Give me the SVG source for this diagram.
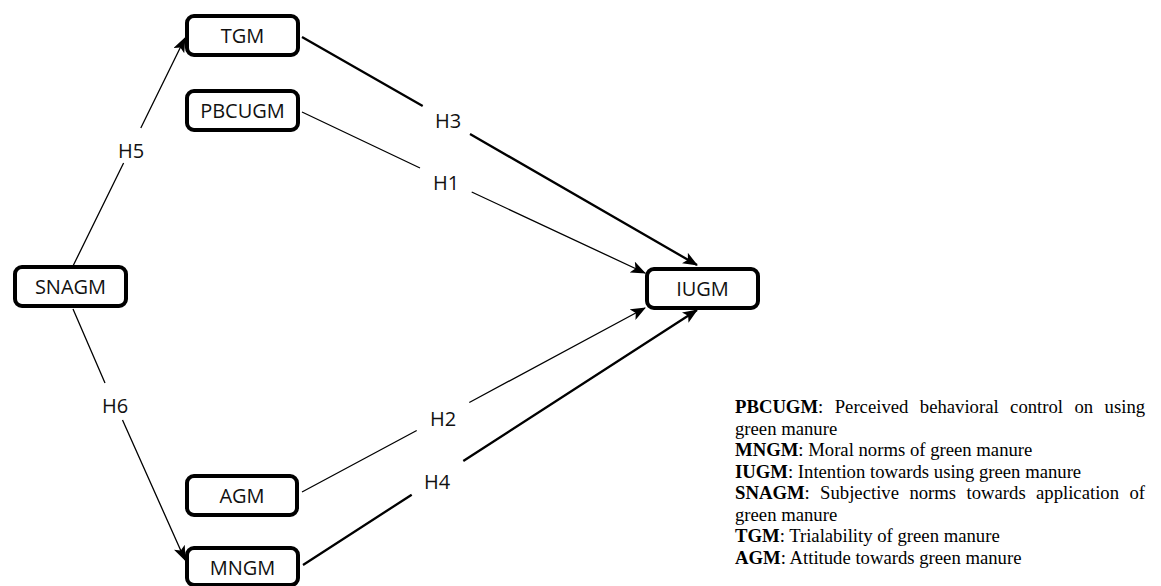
<svg xmlns="http://www.w3.org/2000/svg" width="1161" height="586" viewBox="0 0 1161 586">
<style>
.node rect{fill:#fff;stroke:#000;stroke-width:4}
.nt{font-family:"Open Sans","Liberation Sans",sans-serif;font-size:20px;fill:#111;text-anchor:middle;dominant-baseline:central}
.lbl{font-family:"Open Sans","Liberation Sans",sans-serif;font-size:20px;fill:#111;text-anchor:middle;dominant-baseline:central}
.thin{fill:none;stroke:#000;stroke-width:1.3;marker-end:url(#ah)}
.thick{fill:none;stroke:#000;stroke-width:2.3;marker-end:url(#ah)}
.leg{font-family:"Liberation Serif","Times New Roman",serif;font-size:18.7px;fill:#000}
.leg .b{font-weight:bold}
</style>
<defs>
<marker id="ah" markerUnits="userSpaceOnUse" viewBox="0 0 15 12" refX="14" refY="6" markerWidth="15" markerHeight="12" orient="auto">
<path d="M0,0 L15,6 L0,12 L3.5,6 z" fill="#000"/>
</marker>
</defs>
<rect width="1161" height="586" fill="#fff"/>
<g id="connectors">
<path class="thin" d="M73,266 L123.6,163 M140.8,128 L185,38"/>
<path class="thin" d="M73,309 L105,383 M122.5,420 L185,560"/>
<path class="thick" d="M302,37 L422.7,106 M470,134 L697,265"/>
<path class="thin" d="M302,112 L420,168 M471.7,192 L645,273"/>
<path class="thin" d="M302,492 L416.7,430.5 M469.3,402.5 L645,308"/>
<path class="thick" d="M303,565 L411.7,494.7 M463.3,461 L697,310"/>
</g>
<g id="labels">
<text class="lbl" x="131" y="150">H5</text>
<text class="lbl" x="115" y="405">H6</text>
<text class="lbl" x="448" y="120">H3</text>
<text class="lbl" x="446" y="182">H1</text>
<text class="lbl" x="443" y="418">H2</text>
<text class="lbl" x="437" y="481">H4</text>
</g>
<g id="TGM" class="node"><rect x="187" y="16" width="111" height="39" rx="7"/><text class="nt" x="242.5" y="35.5">TGM</text></g>
<g id="PBCUGM" class="node"><rect x="187" y="91" width="111" height="39" rx="7"/><text class="nt" x="242.5" y="110.5">PBCUGM</text></g>
<g id="SNAGM" class="node"><rect x="15" y="267" width="111" height="39" rx="7"/><text class="nt" x="70.5" y="286.5">SNAGM</text></g>
<g id="IUGM" class="node"><rect x="647" y="269" width="111" height="39" rx="7"/><text class="nt" x="702.5" y="288.5">IUGM</text></g>
<g id="AGM" class="node"><rect x="187" y="476" width="110" height="39" rx="7"/><text class="nt" x="242" y="495.5">AGM</text></g>
<g id="MNGM" class="node"><rect x="187" y="548" width="111" height="37" rx="7"/><text class="nt" x="242.5" y="567">MNGM</text></g>
<g id="legend" class="leg">
<text y="413"><tspan x="735" class="b">PBCUGM</tspan><tspan>:</tspan><tspan x="834.7">Perceived</tspan><tspan x="919.8">behavioral</tspan><tspan x="1010.1">control</tspan><tspan x="1074.5">on</tspan><tspan x="1104.6">using</tspan></text>
<text x="735" y="434.5">green manure</text>
<text x="735" y="456"><tspan class="b">MNGM</tspan>: Moral norms of green manure</text>
<text x="735" y="477.5"><tspan class="b">IUGM</tspan>: Intention towards using green manure</text>
<text y="499"><tspan x="735" class="b">SNAGM</tspan><tspan>:</tspan><tspan x="820.1">Subjective</tspan><tspan x="909.4">norms</tspan><tspan x="966.5">towards</tspan><tspan x="1036">application</tspan><tspan x="1129.4">of</tspan></text>
<text x="735" y="520.5">green manure</text>
<text x="735" y="542"><tspan class="b">TGM</tspan>: Trialability of green manure</text>
<text x="735" y="563.5"><tspan class="b">AGM</tspan>: Attitude towards green manure</text>
</g>
</svg>
